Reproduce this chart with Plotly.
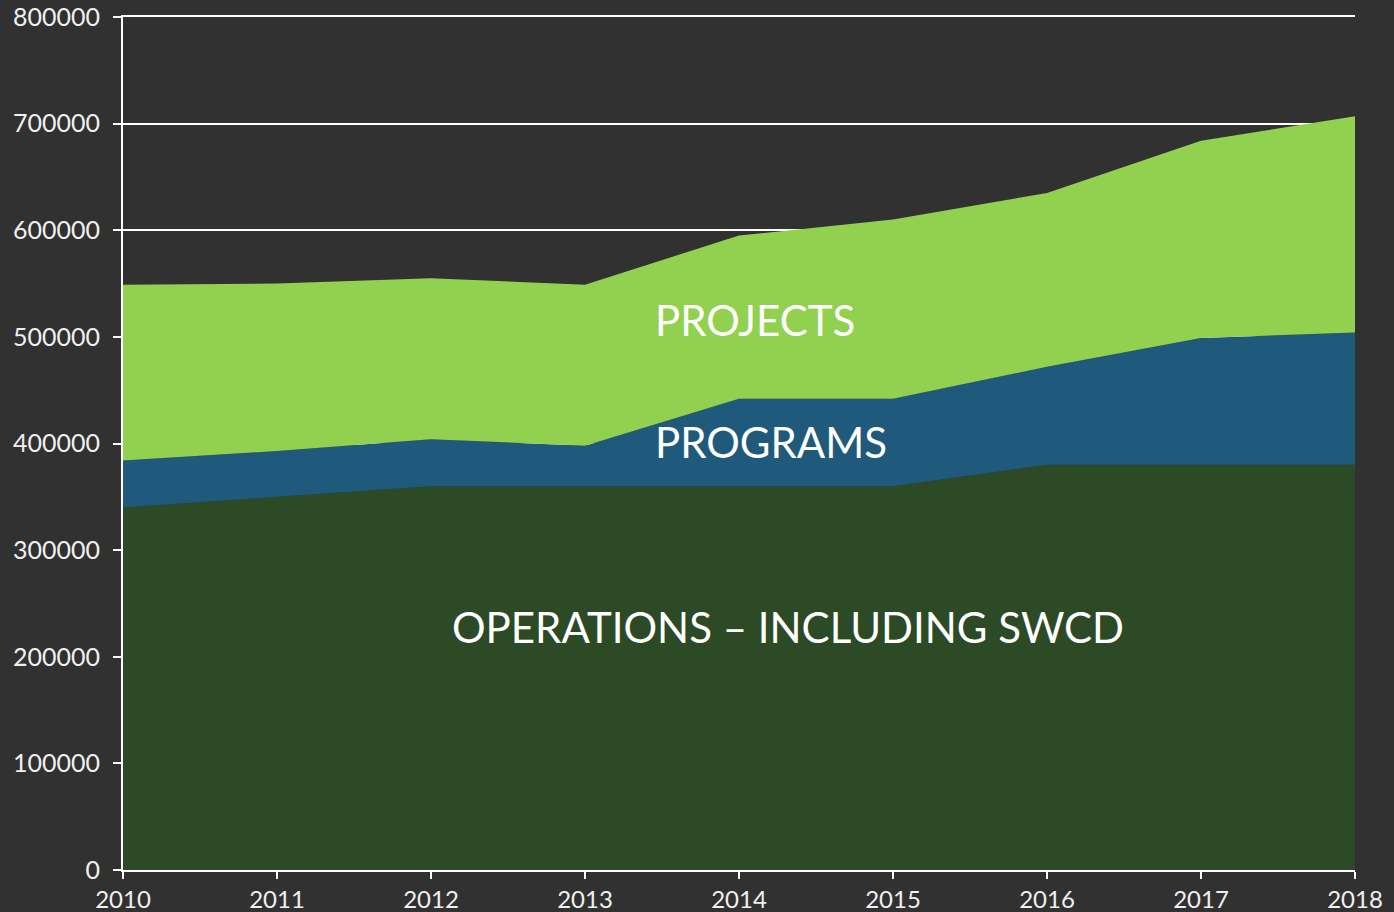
import plotly.graph_objects as go

years = [2010, 2011, 2012, 2013, 2014, 2015, 2016, 2017, 2018]
operations = [340000, 350000, 360000, 360000, 360000, 360000, 380000, 380000, 380000]
programs = [44000, 43000, 44000, 38000, 82000, 82000, 92000, 119000, 124000]
projects = [165000, 157000, 151000, 151000, 153000, 168000, 163000, 185000, 203000]

series_names = ["OPERATIONS – INCLUDING SWCD", "PROGRAMS", "PROJECTS"]
colors = ["#2C4A25", "#1F5A7C", "#92D050"]

fig = go.Figure()
for name, vals, col in zip(series_names, [operations, programs, projects], colors):
    fig.add_trace(go.Scatter(
        x=years, y=vals, name=name, stackgroup="one", mode="none",
        fillcolor=col, line=dict(width=0), showlegend=False,
    ))

font_family = "Lato, 'Open Sans', sans-serif"
label_font = dict(family=font_family, size=42, color="white")
fig.add_annotation(x=2013.44, y=516000, text="PROJECTS", showarrow=False,
                   xanchor="left", yanchor="middle", font=label_font)
fig.add_annotation(x=2013.44, y=401000, text="PROGRAMS", showarrow=False,
                   xanchor="left", yanchor="middle", font=label_font)
fig.add_annotation(x=2014.32, y=228000, text="OPERATIONS – INCLUDING SWCD", showarrow=False,
                   xanchor="center", yanchor="middle", font=label_font)

fig.update_layout(
    width=1394, height=912,
    paper_bgcolor="#313131", plot_bgcolor="#313131",
    margin=dict(l=123, r=39, t=17, b=42, autoexpand=False),
    font=dict(family=font_family, size=24, color="white"),
    xaxis=dict(range=[2010, 2018], tickvals=years, ticktext=[str(y) for y in years],
               showgrid=False, showline=True, linecolor="white", linewidth=2, mirror=True,
               ticks="outside", ticklen=7, tickcolor="white", tickwidth=2, automargin=False,
               tickfont=dict(size=24, color="#F0F0F0"), zeroline=False, layer="above traces"),
    yaxis=dict(range=[0, 800000], tickvals=[0, 100000, 200000, 300000, 400000, 500000, 600000, 700000, 800000],
               ticktext=["0", "100000", "200000", "300000", "400000", "500000", "600000", "700000", "800000"],
               showgrid=True, gridcolor="white", gridwidth=2,
               showline=True, linecolor="white", linewidth=2,
               ticks="outside", ticklen=8, tickcolor="white", tickwidth=2, automargin=False,
               ticklabelstandoff=8,
               tickfont=dict(size=25, color="#F0F0F0"), zeroline=False, layer="above traces"),
)

fig.write_html("out.html", config={"displayModeBar": False},
               post_script="document.body.style.margin='0';document.body.style.overflow='hidden';document.body.style.background='#313131';")
